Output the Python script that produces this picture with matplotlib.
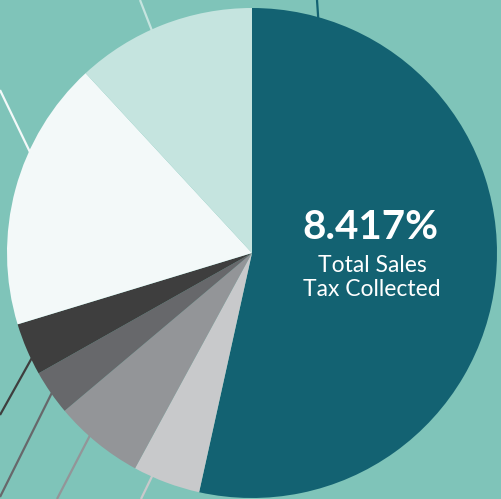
import numpy as np
import matplotlib
matplotlib.use('Agg')
import matplotlib.pyplot as plt

# sales tax components (percent), clockwise from the top
labels = ['State', 'A', 'B', 'C', 'D', 'E', 'F']
rates = [4.5, 0.375, 0.5, 0.25, 0.292, 1.5, 1.0]
colors = ['#136272', '#c8c9cb', '#939598', '#67686b', '#3e3e3e', '#f3f9f9', '#c5e4df']
total_label = '8.417%'

# leader lines: angle on the rim (deg clockwise from top) and far end (pixels)
leader_angle = [17, 204, 222.5, 237, 247, 291.5, 335.6]
leader_end = [(317, 0), (141, 499), (57, 499), (0, 497), (0, 415), (0, 90), (140, 0)]

W, H = 502, 499
cx, cy, R = 252, 253, 245

fig = plt.figure(figsize=(W/100, H/100), dpi=100, facecolor='#7fc4b9')
ax = fig.add_axes([0, 0, 1, 1])
ax.set_facecolor('#7fc4b9')

# leader lines under the pie
for c, a, (ex, ey) in zip(colors, leader_angle, leader_end):
    t = np.radians(a)
    sx = cx + (R - 15) * np.sin(t)
    sy = cy - (R - 15) * np.cos(t)
    ax.plot([sx, ex], [H - sy, H - ey], color=c, lw=1.6, zorder=1, solid_capstyle='butt')

ax.pie(rates, colors=colors, startangle=90, counterclock=False,
       center=(cx, H - cy), radius=R, frame=True,
       wedgeprops=dict(linewidth=0, zorder=2))
ax.set_xlim(0, W)
ax.set_ylim(0, H)
ax.set_aspect('auto')
ax.axis('off')

ax.text(370, H - 227, total_label, color='white', fontsize=29, fontweight='bold',
        family='Lato', ha='center', va='center', zorder=5)
ax.text(372, H - 265, 'Total Sales', color='white', fontsize=16.5,
        family='Lato', ha='center', va='center', zorder=5)
ax.text(372, H - 289, 'Tax Collected', color='white', fontsize=16.5,
        family='Lato', ha='center', va='center', zorder=5)

plt.savefig('out.png', dpi=100, facecolor=fig.get_facecolor())
